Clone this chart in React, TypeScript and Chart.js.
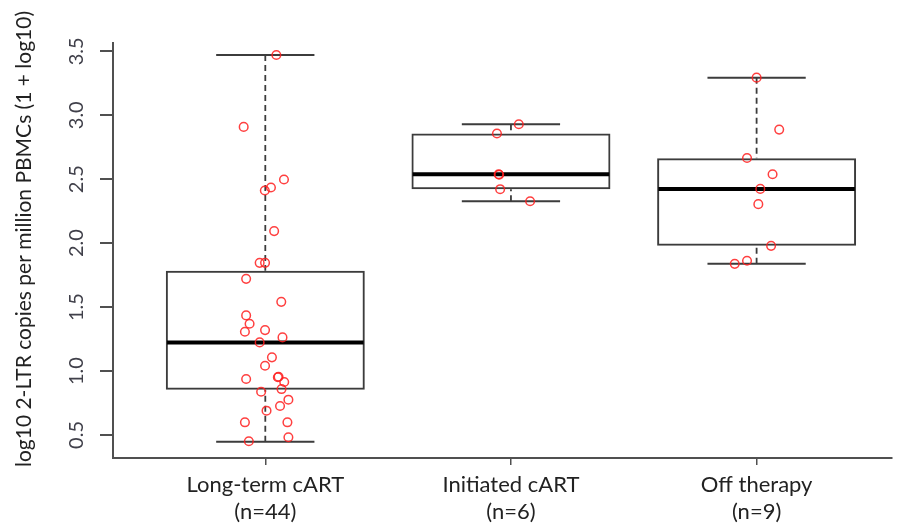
import React, { useEffect, useRef } from "react";
import { Chart, registerables } from "chart.js";

Chart.register(...registerables);

// ---- data ----
const CATEGORIES = ["Long-term cART", "Initiated cART", "Off therapy"];
const COUNTS = ["(n=44)", "(n=6)", "(n=9)"];
const Y_TICKS = [0.5, 1.0, 1.5, 2.0, 2.5, 3.0, 3.5];
const Y_TITLE = "log10 2-LTR copies per million PBMCs (1 + log10)";

const WHISKER_LOW = [0.448, 2.328, 1.838];
const Q1 = [0.854, 2.422, 1.979];
const MEDIAN = [1.224, 2.539, 2.424];
const Q3 = [1.784, 2.857, 2.664];
const WHISKER_HIGH = [3.471, 2.93, 3.294];

const LONG_TERM_VALUES = [
  3.471, 2.909, 2.498, 2.435, 2.412, 2.094, 1.846, 1.846, 1.721, 1.541, 1.435,
  1.37, 1.307, 1.32, 1.263, 1.224, 1.107, 1.041, 0.938, 0.955, 0.951, 0.914,
  0.859, 0.838, 0.776, 0.727, 0.69, 0.599, 0.599, 0.482, 0.451,
];
const LONG_TERM_JITTER = [
  0.045, -0.088, 0.076, 0.023, -0.002, 0.036, -0.023, -0.001, -0.078, 0.065,
  -0.078, -0.064, -0.083, -0.001, 0.07, -0.023, 0.027, -0.001, -0.078, 0.054,
  0.051, 0.077, 0.066, -0.017, 0.094, 0.06, 0.005, -0.083, 0.09, 0.094, -0.067,
];
const INITIATED_VALUES = [2.93, 2.857, 2.539, 2.535, 2.422, 2.328];
const INITIATED_JITTER = [0.032, -0.057, -0.05, -0.048, -0.044, 0.078];
const OFF_VALUES = [3.294, 2.888, 2.666, 2.539, 2.424, 2.305, 1.979, 1.862, 1.838];
const OFF_JITTER = [0.0, 0.092, -0.039, 0.065, 0.015, 0.007, 0.059, -0.039, -0.089];

const GROUP_VALUES = [LONG_TERM_VALUES, INITIATED_VALUES, OFF_VALUES];
const GROUP_JITTER = [LONG_TERM_JITTER, INITIATED_JITTER, OFF_JITTER];

const FONT = "Lato, 'Open Sans', sans-serif";
const AXIS_COLOR = "#505050";
const BOX_COLOR = "#3c3c3c";
const TEXT_COLOR = "#222";

const boxPlugin = {
  id: "boxExtras",
  afterDatasetDraw(chart: any, args: any) {
    if (args.index !== 0) return;
    const { ctx } = chart;
    const xs = chart.scales.x;
    const ys = chart.scales.y;
    ctx.save();
    CATEGORIES.forEach((_, i) => {
      const cx = xs.getPixelForValue(i + 1);
      const boxHalf = xs.getPixelForValue(i + 1 + 0.4) - cx;
      const capHalf = xs.getPixelForValue(i + 1 + 0.2) - cx;
      const yLow = ys.getPixelForValue(WHISKER_LOW[i]);
      const yHigh = ys.getPixelForValue(WHISKER_HIGH[i]);
      const yQ1 = ys.getPixelForValue(Q1[i]);
      const yQ3 = ys.getPixelForValue(Q3[i]);
      const yMed = ys.getPixelForValue(MEDIAN[i]);
      // dashed whiskers
      ctx.strokeStyle = BOX_COLOR;
      ctx.lineWidth = 1.8;
      ctx.setLineDash([6, 4]);
      ctx.beginPath();
      ctx.moveTo(cx, yHigh);
      ctx.lineTo(cx, yQ3);
      ctx.moveTo(cx, yLow);
      ctx.lineTo(cx, yQ1);
      ctx.stroke();
      // caps
      ctx.setLineDash([]);
      ctx.lineWidth = 2;
      ctx.beginPath();
      ctx.moveTo(cx - capHalf, yHigh);
      ctx.lineTo(cx + capHalf, yHigh);
      ctx.moveTo(cx - capHalf, yLow);
      ctx.lineTo(cx + capHalf, yLow);
      ctx.stroke();
      // median
      ctx.strokeStyle = "#000";
      ctx.lineWidth = 4;
      ctx.beginPath();
      ctx.moveTo(cx - boxHalf, yMed);
      ctx.lineTo(cx + boxHalf, yMed);
      ctx.stroke();
    });
    ctx.restore();
  },
  afterDraw(chart: any) {
    const { ctx } = chart;
    const ys = chart.scales.y;
    ctx.save();
    // y tick labels, rotated (parallel to axis)
    ctx.fillStyle = "#40404a";
    ctx.font = `20px ${FONT}`;
    ctx.textAlign = "center";
    ctx.textBaseline = "alphabetic";
    Y_TICKS.forEach((v) => {
      const y = ys.getPixelForValue(v);
      ctx.save();
      ctx.translate(83, y);
      ctx.rotate(-Math.PI / 2);
      ctx.fillText(v.toFixed(1), 0, 0);
      ctx.restore();
    });
    // y title
    ctx.fillStyle = TEXT_COLOR;
    ctx.font = `21px ${FONT}`;
    ctx.translate(31, 239);
    ctx.rotate(-Math.PI / 2);
    ctx.fillText(Y_TITLE, 0, 0);
    ctx.restore();
  },
};

export default function App() {
  const canvasRef = useRef<HTMLCanvasElement | null>(null);

  useEffect(() => {
    const canvas = canvasRef.current;
    if (!canvas) return;
    const pointData = GROUP_VALUES.map((vals, g) =>
      vals.map((v, k) => ({ x: g + 1 + GROUP_JITTER[g][k], y: v }))
    );
    const chart = new Chart(canvas, {
      type: "scatter",
      data: {
        datasets: [
          {
            type: "bar",
            data: CATEGORIES.map((_, i) => ({ x: i + 1, y: [Q1[i], Q3[i]] })),
            backgroundColor: "rgba(255,255,255,0)",
            borderColor: BOX_COLOR,
            borderWidth: 2,
            borderSkipped: false,
            categoryPercentage: 1,
            barPercentage: 0.81,
            order: 2,
          } as any,
          {
            type: "scatter",
            data: pointData.flat(),
            pointRadius: 4.3,
            pointHoverRadius: 4.3,
            pointBorderWidth: 1.5,
            borderColor: "rgba(255,30,30,0.85)",
            backgroundColor: "rgba(0,0,0,0)",
            order: 1,
          } as any,
        ],
      },
      options: {
        animation: false,
        responsive: false,
        devicePixelRatio: 1,
        layout: { padding: { top: 43, left: 0, right: 0, bottom: 0 } },
        plugins: {
          legend: { display: false },
          tooltip: { enabled: false },
        },
        scales: {
          x: {
            type: "linear",
            min: 0.38,
            max: 3.552,
            offset: false,
            afterBuildTicks: (scale: any) => {
              scale.ticks = CATEGORIES.map((_, i) => ({ value: i + 1 }));
            },
            afterFit: (scale: any) => {
              scale.height = 71;
            },
            ticks: {
              autoSkip: false,
              maxRotation: 0,
              minRotation: 0,
              padding: 6,
              color: TEXT_COLOR,
              font: { family: FONT, size: 22, lineHeight: 1.25 },
              callback: (value: any) => {
                const i = Math.round(Number(value)) - 1;
                return [CATEGORIES[i], COUNTS[i]];
              },
            },
            grid: {
              offset: false,
              drawOnChartArea: false,
              drawTicks: true,
              tickLength: 7,
              color: AXIS_COLOR,
              lineWidth: 1.5,
            },
            border: { display: true, color: AXIS_COLOR, width: 2 },
          },
          y: {
            type: "linear",
            min: 0.32,
            max: 3.565,
            afterBuildTicks: (scale: any) => {
              scale.ticks = Y_TICKS.map((v) => ({ value: v }));
            },
            afterFit: (scale: any) => {
              scale.width = 113;
            },
            ticks: { display: false },
            grid: {
              drawOnChartArea: false,
              drawTicks: true,
              tickLength: 13,
              color: AXIS_COLOR,
              lineWidth: 2,
            },
            border: { display: true, color: AXIS_COLOR, width: 2 },
          },
        },
      } as any,
      plugins: [boxPlugin],
    });
    return () => chart.destroy();
  }, []);

  return (
    <div style={{ position: "absolute", left: 0, top: 0, width: 898, height: 529, background: "#fff" }}>
      <canvas ref={canvasRef} width={898} height={529} />
    </div>
  );
}
